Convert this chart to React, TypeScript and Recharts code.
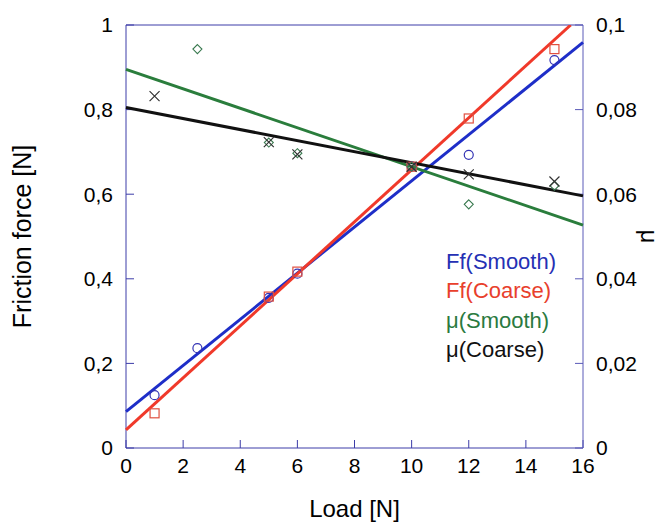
import React from "react";
import {
  ComposedChart,
  Scatter,
  XAxis,
  YAxis,
  Legend,
} from "recharts";

// measured points (load in N)
const ffSmooth = [
  { x: 1, y: 0.125 },
  { x: 2.5, y: 0.236 },
  { x: 5, y: 0.355 },
  { x: 6, y: 0.412 },
  { x: 10, y: 0.665 },
  { x: 12, y: 0.693 },
  { x: 15, y: 0.917 },
];
const ffCoarse = [
  { x: 1, y: 0.082 },
  { x: 5, y: 0.358 },
  { x: 6, y: 0.417 },
  { x: 10, y: 0.665 },
  { x: 12, y: 0.779 },
  { x: 15, y: 0.943 },
];
const muSmooth = [
  { x: 2.5, y: 0.0943 },
  { x: 5, y: 0.0722 },
  { x: 6, y: 0.0697 },
  { x: 10, y: 0.0665 },
  { x: 12, y: 0.0576 },
  { x: 15, y: 0.062 },
];
const muCoarse = [
  { x: 1, y: 0.0832 },
  { x: 5, y: 0.0723 },
  { x: 6, y: 0.0694 },
  { x: 10, y: 0.0665 },
  { x: 12, y: 0.0647 },
  { x: 15, y: 0.063 },
];

// fitted lines, end points
const fitFfSmooth = [
  { x: 0, y: 0.086 },
  { x: 16, y: 0.959 },
];
const fitFfCoarse = [
  { x: 0, y: 0.043 },
  { x: 15.57, y: 1.0 },
];
const fitMuSmooth = [
  { x: 0, y: 0.0895 },
  { x: 16, y: 0.0527 },
];
const fitMuCoarse = [
  { x: 0, y: 0.0805 },
  { x: 16, y: 0.0596 },
];

const seriesNames = ["Ff(Smooth)", "Ff(Coarse)", "μ(Smooth)", "μ(Coarse)"];
const loadTicks = [0, 2, 4, 6, 8, 10, 12, 14, 16];
const ffTicks = [0, 0.2, 0.4, 0.6, 0.8, 1];
const muTicks = [0, 0.02, 0.04, 0.06, 0.08, 0.1];

const FONT = "Arial, 'Liberation Sans', sans-serif";
const AXIS = "#3c3ca8";
const comma = (v: number) => String(v).replace(".", ",");

const tickStyle = { fill: "#000", fontSize: 21, fontFamily: FONT };

const Circle = (p: any) => (
  <circle cx={p.cx} cy={p.cy} r={4.5} fill="none" stroke="#3434b4" strokeWidth={1.2} />
);
const Square = (p: any) => (
  <rect x={p.cx - 4.5} y={p.cy - 4.5} width={9} height={9} fill="none" stroke="#e05040" strokeWidth={1.2} />
);
const Diamond = (p: any) => (
  <path
    d={`M${p.cx},${p.cy - 4.5}L${p.cx + 4.5},${p.cy}L${p.cx},${p.cy + 4.5}L${p.cx - 4.5},${p.cy}Z`}
    fill="none"
    stroke="#3a7a50"
    strokeWidth={1.1}
  />
);
const Cross = (p: any) => (
  <path
    d={`M${p.cx - 5},${p.cy - 5}L${p.cx + 5},${p.cy + 5}M${p.cx + 5},${p.cy - 5}L${p.cx - 5},${p.cy + 5}`}
    stroke="#333"
    strokeWidth={1.2}
  />
);
const NoDot = () => <g />;

const renderLegend = (props: any) => {
  const items = [...(props.payload || [])].sort(
    (a: any, b: any) => seriesNames.indexOf(a.value) - seriesNames.indexOf(b.value)
  );
  return (
    <div style={{ fontFamily: FONT, fontSize: 22, lineHeight: "29.4px" }}>
      {items.map((e: any) => (
        <div key={e.value} style={{ color: e.color }}>
          {e.value}
        </div>
      ))}
    </div>
  );
};

export default function App() {
  return (
    <div style={{ position: "absolute", left: 0, top: 0 }}>
      <ComposedChart
        width={666}
        height={522}
        margin={{ top: 20, right: 5, bottom: 14, left: 5 }}
      >
        <XAxis
          dataKey="x"
          type="number"
          domain={[0, 16]}
          ticks={loadTicks}
          height={60}
          stroke={AXIS}
          tick={tickStyle}
          tickSize={-8}
          tickMargin={18}
          label={{
            value: "Load [N]",
            position: "insideBottom",
            offset: -9,
            style: { fill: "#000", fontSize: 24, fontFamily: FONT },
          }}
        />
        <XAxis
          xAxisId="top"
          orientation="top"
          dataKey="x"
          type="number"
          domain={[0, 16]}
          ticks={loadTicks}
          height={5}
          stroke={AXIS}
          tickSize={-8}
          tickFormatter={() => ""}
        />
        <YAxis
          yAxisId="ff"
          dataKey="y"
          type="number"
          domain={[0, 1]}
          ticks={ffTicks}
          width={121}
          stroke={AXIS}
          tick={tickStyle}
          tickSize={-8}
          tickMargin={21}
          tickFormatter={comma}
          allowDataOverflow
          label={{
            value: "Friction force [N]",
            angle: -90,
            position: "insideLeft",
            offset: 17,
            style: { fill: "#000", fontSize: 25, fontFamily: FONT, textAnchor: "middle" },
          }}
        />
        <YAxis
          yAxisId="mu"
          orientation="right"
          dataKey="y"
          type="number"
          domain={[0, 0.1]}
          ticks={muTicks}
          width={78}
          stroke="#5a5ab8"
          tick={tickStyle}
          tickSize={-8}
          tickMargin={21}
          tickFormatter={comma}
          allowDataOverflow
          label={{
            value: "μ",
            angle: 90,
            position: "insideRight",
            offset: 11,
            style: { fill: "#000", fontSize: 24, fontFamily: FONT, textAnchor: "middle" },
          }}
        />

        {/* regression lines */}
        <Scatter yAxisId="ff" data={fitFfSmooth} line={{ stroke: "#1e2ec8", strokeWidth: 3 }} shape={NoDot} legendType="none" isAnimationActive={false} />
        <Scatter yAxisId="ff" data={fitFfCoarse} line={{ stroke: "#f0392a", strokeWidth: 3 }} shape={NoDot} legendType="none" isAnimationActive={false} />
        <Scatter yAxisId="mu" data={fitMuSmooth} line={{ stroke: "#2a7d3c", strokeWidth: 3 }} shape={NoDot} legendType="none" isAnimationActive={false} />
        <Scatter yAxisId="mu" data={fitMuCoarse} line={{ stroke: "#111", strokeWidth: 3 }} shape={NoDot} legendType="none" isAnimationActive={false} />

        {/* measurements */}
        <Scatter yAxisId="ff" name={seriesNames[0]} data={ffSmooth} fill="#2530b4" shape={Circle} isAnimationActive={false} />
        <Scatter yAxisId="ff" name={seriesNames[1]} data={ffCoarse} fill="#e8402c" shape={Square} isAnimationActive={false} />
        <Scatter yAxisId="mu" name={seriesNames[2]} data={muSmooth} fill="#2a7a40" shape={Diamond} isAnimationActive={false} />
        <Scatter yAxisId="mu" name={seriesNames[3]} data={muCoarse} fill="#111" shape={Cross} isAnimationActive={false} />

        <Legend
          layout="vertical"
          align="center"
          verticalAlign="middle"
          wrapperStyle={{ left: 446, top: 247, width: "auto" }}
          content={renderLegend}
        />
      </ComposedChart>
    </div>
  );
}
